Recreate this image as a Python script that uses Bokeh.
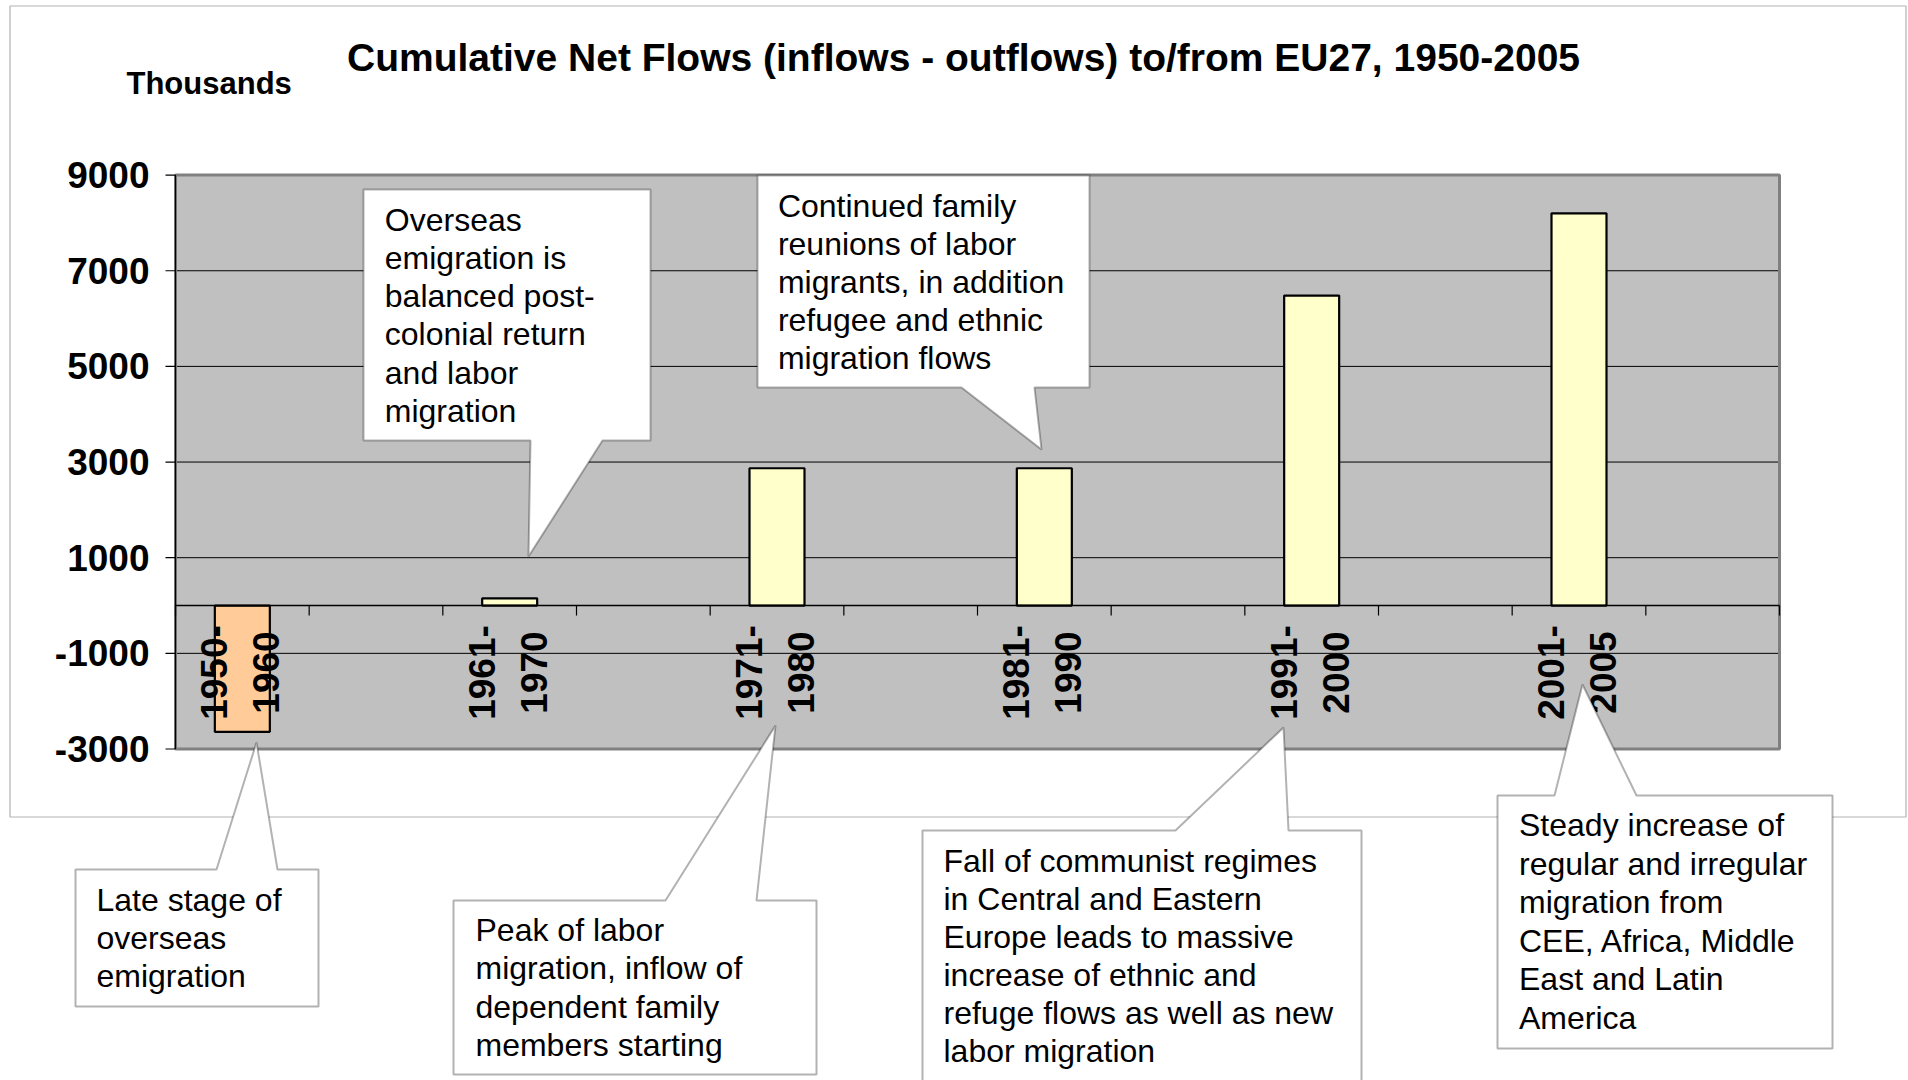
import math
from bokeh.plotting import figure
from bokeh.models import Label, PolyAnnotation, Range1d, ColumnDataSource
from bokeh.core.properties import value
from bokeh.embed import file_html
from bokeh.resources import INLINE

# ---------------- data ----------------
categories = ["1950-1960", "1961-1970", "1971-1980", "1981-1990", "1991-2000", "2001-2005"]
net_flows = [-2640, 150, 2870, 2870, 6480, 8200]          # thousands
y_ticks = [-3000, -1000, 1000, 3000, 5000, 7000, 9000]
y_tick_labels = ["-3000", "-1000", "1000", "3000", "5000", "7000", "9000"]

title_text = "Cumulative Net Flows (inflows - outflows) to/from EU27, 1950-2005"
unit_text = "Thousands"

note_overseas = ["Overseas", "emigration is", "balanced post-", "colonial return",
                 "and labor", "migration"]
note_family = ["Continued family", "reunions of labor", "migrants, in addition",
               "refugee and ethnic", "migration flows"]
note_late = ["Late stage of", "overseas", "emigration"]
note_peak = ["Peak of labor", "migration, inflow of", "dependent family",
             "members starting"]
note_fall = ["Fall of communist regimes", "in Central and Eastern",
             "Europe leads to massive", "increase of ethnic and",
             "refuge flows as well as new", "labor migration"]
note_steady = ["Steady increase of", "regular and irregular", "migration from",
               "CEE, Africa, Middle", "East and Latin", "America"]

# ---------------- layout ----------------
FONT = "Liberation Sans"
W, H = 1908, 1080
# plot (gray) area in canvas pixels
PL, PR, PT, PB = 175.0, 1779.0, 174.6, 748.5
NX = 2 * len(categories)            # each period spans two category slots
Y0, Y1 = -3000, 9000

cat_per_px = NX / (PR - PL)
val_per_px = (Y1 - Y0) / (PB - PT)

p = figure(width=W, height=H, min_border=0,
           x_range=Range1d(0, W), y_range=Range1d(H, 0),
           title=None, toolbar_location=None, output_backend="svg",
           x_axis_location=None, y_axis_location=None)
p.extra_x_ranges = {"cat": Range1d(0 - PL * cat_per_px, NX + (W - PR) * cat_per_px)}
p.extra_y_ranges = {"val": Range1d(Y0 - (H - PB) * val_per_px, Y1 + PT * val_per_px)}
p.grid.visible = False
p.outline_line_color = None
p.background_fill_color = "white"
p.border_fill_color = "white"

R = dict(x_range_name="cat", y_range_name="val")

# plot area background
p.quad(left=0, right=NX, bottom=Y0, top=Y1, fill_color="#C0C0C0", line_color=None, **R)

# horizontal grid lines
p.segment(x0=[0] * len(y_ticks), x1=[NX] * len(y_ticks), y0=y_ticks, y1=y_ticks,
          line_color="black", line_width=1, **R)

# plot-area border (3-D style gray edge)
p.quad(left=0, right=NX, bottom=Y0, top=Y1, fill_color=None,
       line_color="#808080", line_width=3, **R)

# y axis: line, ticks, labels
p.segment(x0=0, x1=0, y0=Y0, y1=Y1, line_color="black", line_width=1.2, **R)
tick_px = 10
p.segment(x0=[0] * len(y_ticks), x1=[-tick_px * cat_per_px] * len(y_ticks),
          y0=y_ticks, y1=y_ticks, line_color="black", line_width=1.2, **R)
p.text(x=[-(tick_px + 16) * cat_per_px] * len(y_ticks), y=y_ticks, text=y_tick_labels,
       text_align="right", text_baseline="middle", text_font=value(FONT),
       text_font_style="bold", text_font_size="37px", text_color="black", **R)

# bars
bar_x = [2 * i + 0.5 for i in range(len(categories))]
bar_colors = ["#FFCC99" if v < 0 else "#FFFFCC" for v in net_flows]
src = ColumnDataSource(dict(x=bar_x, top=net_flows, color=bar_colors,
                            first=[c.split("-")[0] + "-" for c in categories],
                            second=[c.split("-")[1] for c in categories]))
p.vbar(x="x", top="top", bottom=0, width=55 * cat_per_px, fill_color="color",
       line_color="black", line_width=2.2, source=src, **R)

# zero axis with category tick marks
p.segment(x0=0, x1=NX, y0=0, y1=0, line_color="black", line_width=1.5, **R)
bounds = list(range(0, NX + 1))
p.segment(x0=bounds, x1=bounds, y0=[0] * len(bounds),
          y1=[-tick_px * val_per_px] * len(bounds), line_color="black", line_width=1.2, **R)

# rotated two-line category labels
lab_y = Y1 - (672 - PT) * val_per_px
for col, off in (("first", -28), ("second", 24)):
    p.text(x="x", y=lab_y, text=col, source=src, angle=math.pi / 2,
           x_offset=off, text_align="center", text_baseline="middle",
           text_font=value(FONT), text_font_style="bold",
           text_font_size="37px", text_color="black", **R)

# outer chart frame
p.add_layout(PolyAnnotation(xs=[9.5, 1905.5, 1905.5, 9.5], ys=[5.5, 5.5, 816.5, 816.5],
                            fill_color=None, line_color="black", line_width=1.2))

# title & unit label (y = vertical centre of capitals)
p.add_layout(Label(x=963, y=57, text=title_text, text_align="center",
                   text_baseline="middle", text_font=FONT, text_font_style="bold",
                   text_font_size="39px", text_color="black"))
p.add_layout(Label(x=126, y=83, text=unit_text, text_align="left",
                   text_baseline="middle", text_font=FONT, text_font_style="bold",
                   text_font_size="31px", text_color="black"))

# callouts: (outline polygon in canvas px, text x, first baseline, line step, lines)
callouts = [
    ([(363, 189), (650, 189), (650, 440), (602, 440), (528, 556), (530, 440), (363, 440)],
     384.3, 230.7, 38.25, note_overseas),
    ([(757, 175), (1089, 175), (1089, 387), (1034, 387), (1041, 449), (961, 387), (757, 387)],
     777.4, 217, 37.9, note_family),
    ([(75, 869), (216, 869), (256, 742), (277, 869), (318, 869), (318, 1006),
      (75, 1006)],
     96, 910.5, 38.3, note_late),
    ([(453, 900), (665, 900), (775, 725), (756, 900), (816, 900), (816, 1074),
      (453, 1074)],
     475, 941, 38.3, note_peak),
    ([(922, 830), (1175, 830), (1283, 727), (1288, 830), (1361, 830), (1361, 1095),
      (922, 1095)],
     943, 872.3, 38.0, note_fall),
    ([(1497, 795), (1554, 795), (1582, 684), (1636, 795), (1832, 795),
      (1832, 1048), (1497, 1048)],
     1518.5, 836, 38.5, note_steady),
]

NOTE_FS = 32
for poly, tx, base, step, lines in callouts:
    p.add_layout(PolyAnnotation(xs=[a for a, b in poly], ys=[b for a, b in poly],
                                fill_color="white", fill_alpha=1.0,
                                line_color="black", line_width=2))
    for k, line in enumerate(lines):
        p.add_layout(Label(x=tx, y=base + k * step - 0.358 * NOTE_FS, text=line,
                           text_align="left", text_baseline="middle",
                           text_font=FONT, text_font_size=f"{NOTE_FS}px",
                           text_color="black"))

open("out.html", "w").write(file_html(p, INLINE))
